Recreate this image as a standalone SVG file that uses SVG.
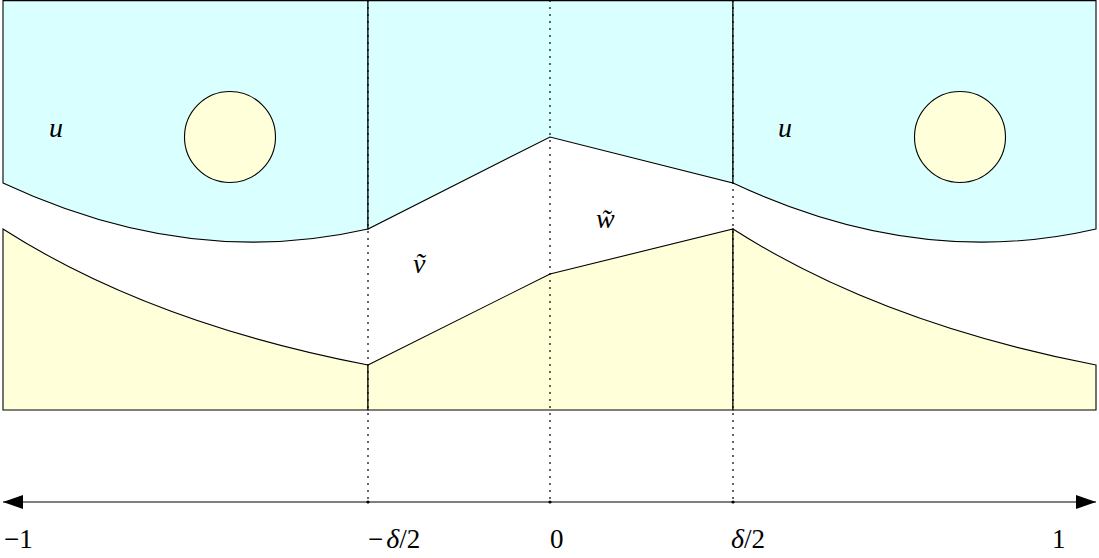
<svg xmlns="http://www.w3.org/2000/svg" width="1099" height="558" viewBox="0 0 1099 558">
<defs>
<style>
.blue{fill:#D9FFFF;stroke:#000;stroke-width:1.1;stroke-linejoin:miter}
.yel{fill:#FFFFD9;stroke:#000;stroke-width:1.1}
.dot{stroke:#000;stroke-width:1.2;stroke-dasharray:2 5;fill:none}
.ax{stroke:#000;stroke-width:1.1;fill:none}
.m{font-family:"Liberation Serif",serif;font-size:28px;font-style:italic;fill:#000}
.n{font-family:"Liberation Serif",serif;font-size:27px;fill:#000}
</style>
<marker id="ah" viewBox="0 0 20 14" refX="20" refY="7" markerWidth="20" markerHeight="14" markerUnits="userSpaceOnUse" orient="auto-start-reverse">
<path d="M0,0 L20,7 L0,14 Z" fill="#000"/>
</marker>
</defs>
<g id="regions">
<g id="blue-left"><path class="blue" d="M3,0.6 L368,0.6 L368,229 Q189,270 3,183 Z"/></g>
<g id="blue-mid"><path class="blue" d="M368,0.6 L733,0.6 L733,183 L550,137 L368,229 Z"/></g>
<g id="blue-right"><path class="blue" d="M733,0.6 L1096,0.6 L1096,229 Q919,270 733,183 Z"/></g>
<g id="yel-left"><path class="yel" d="M3,229 Q150,323 368,365 L368,410 L3,410 Z"/></g>
<g id="yel-mid"><path class="yel" d="M368,365 L550,274 L733,229 L733,410 L368,410 Z"/></g>
<g id="yel-right"><path class="yel" d="M733,229 Q880,323 1096,365 L1096,410 L733,410 Z"/></g>
<g id="circle-left"><circle class="yel" cx="230" cy="137" r="45.5"/></g>
<g id="circle-right"><circle class="yel" cx="960" cy="137" r="45.5"/></g>
</g>
<g id="connectors">
<line class="dot" x1="368" y1="0" x2="368" y2="502"/>
<line class="dot" x1="550" y1="0" x2="550" y2="502"/>
<line class="dot" x1="733" y1="0" x2="733" y2="502"/>
<line class="ax" x1="3" y1="502" x2="1096" y2="502" marker-start="url(#ah)" marker-end="url(#ah)"/>
<circle cx="368" cy="502" r="1.6" fill="#000"/>
<circle cx="550" cy="502" r="1.6" fill="#000"/>
<circle cx="733" cy="502" r="1.6" fill="#000"/>
</g>
<g id="labels">
<text class="m" x="49" y="137">u</text>
<text class="m" x="778" y="137">u</text>
<text class="m" x="413" y="273">ṽ</text>
<text class="m" x="596" y="228">w̃</text>
<text class="n" x="4" y="548">−1</text>
<text x="368" y="548"><tspan class="n">−</tspan><tspan class="m" dx="3">δ</tspan><tspan class="n">/2</tspan></text>
<text class="n" x="550" y="548">0</text>
<text x="731" y="548"><tspan class="m">δ</tspan><tspan class="n">/2</tspan></text>
<text class="n" x="1052" y="548">1</text>
</g>
</svg>
